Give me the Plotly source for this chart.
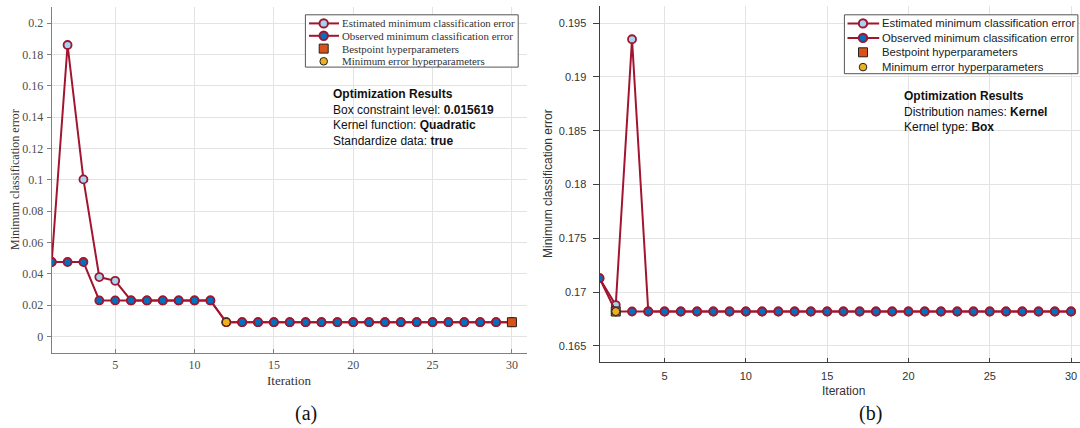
import plotly.graph_objects as go

W, H = 1080, 428

# ---------------- data ----------------
iterations = list(range(1, 31))

a_estimated = [0.0476, 0.186, 0.1003, 0.038, 0.0356, 0.0231, 0.0231, 0.0231, 0.0231, 0.0231,
               0.0231, 0.0092, 0.0092, 0.0092, 0.0092, 0.0092, 0.0092, 0.0092, 0.0092, 0.0092,
               0.0092, 0.0092, 0.0092, 0.0092, 0.0092, 0.0092, 0.0092, 0.0092, 0.0092, 0.0092]
a_observed = [0.0476, 0.0476, 0.0476, 0.0231, 0.0231, 0.0231, 0.0231, 0.0231, 0.0231, 0.0231,
              0.0231, 0.0092, 0.0092, 0.0092, 0.0092, 0.0092, 0.0092, 0.0092, 0.0092, 0.0092,
              0.0092, 0.0092, 0.0092, 0.0092, 0.0092, 0.0092, 0.0092, 0.0092, 0.0092, 0.0092]
a_best_iter = [30]
a_best_val = [0.0092]
a_min_iter = [12]
a_min_val = [0.0092]

b_estimated = [0.1713, 0.1688, 0.1935, 0.1682, 0.1682, 0.1682, 0.1682, 0.1682, 0.1682, 0.1682,
               0.1682, 0.1682, 0.1682, 0.1682, 0.1682, 0.1682, 0.1682, 0.1682, 0.1682, 0.1682,
               0.1682, 0.1682, 0.1682, 0.1682, 0.1682, 0.1682, 0.1682, 0.1682, 0.1682, 0.1682]
b_observed = [0.1713, 0.1682, 0.1682, 0.1682, 0.1682, 0.1682, 0.1682, 0.1682, 0.1682, 0.1682,
              0.1682, 0.1682, 0.1682, 0.1682, 0.1682, 0.1682, 0.1682, 0.1682, 0.1682, 0.1682,
              0.1682, 0.1682, 0.1682, 0.1682, 0.1682, 0.1682, 0.1682, 0.1682, 0.1682, 0.1682]
b_best_iter = [2]
b_best_val = [0.1682]
b_min_iter = [2]
b_min_val = [0.1682]

a_yticks = [0, 0.02, 0.04, 0.06, 0.08, 0.1, 0.12, 0.14, 0.16, 0.18, 0.2]
a_ytick_labels = ["0", "0.02", "0.04", "0.06", "0.08", "0.1", "0.12", "0.14", "0.16", "0.18", "0.2"]
b_yticks = [0.165, 0.17, 0.175, 0.18, 0.185, 0.19, 0.195]
b_ytick_labels = ["0.165", "0.17", "0.175", "0.18", "0.185", "0.19", "0.195"]
xticks = [5, 10, 15, 20, 25, 30]

legend_labels = ["Estimated minimum classification error",
                 "Observed minimum classification error",
                 "Bestpoint hyperparameters",
                 "Minimum error hyperparameters"]

a_results = ("<b>Optimization Results</b><br>Box constraint level: <b>0.015619</b><br>"
             "Kernel function: <b>Quadratic</b><br>Standardize data: <b>true</b>")
b_results = ("<b>Optimization Results</b><br>Distribution names: <b>Kernel</b><br>"
             "Kernel type: <b>Box</b>")

# ---------------- styles ----------------
CRIMSON = "#A2142F"
LIGHTBLUE = "#9FD6F2"
BLUE = "#0072BD"
ORANGE = "#D95319"
YELLOW = "#EDB120"
SERIF = "Liberation Serif, Times New Roman, serif"
SANS = "Liberation Sans, Arial, sans-serif"


def px(x):
    return x / W


def py(y):
    return 1 - y / H


fig = go.Figure()


def add_panel(xa, ya, est, obs, bi, bv, mi, mv):
    fig.add_trace(go.Scatter(x=iterations, y=est, mode="lines+markers", xaxis=xa, yaxis=ya,
                             line=dict(color=CRIMSON, width=2),
                             marker=dict(symbol="circle", size=8, color=LIGHTBLUE,
                                         line=dict(color=CRIMSON, width=1.8)),
                             name=legend_labels[0], showlegend=False))
    fig.add_trace(go.Scatter(x=iterations, y=obs, mode="lines+markers", xaxis=xa, yaxis=ya,
                             line=dict(color=CRIMSON, width=2),
                             marker=dict(symbol="circle", size=8, color=BLUE,
                                         line=dict(color=CRIMSON, width=1.8)),
                             name=legend_labels[1], showlegend=False))
    fig.add_trace(go.Scatter(x=bi, y=bv, mode="markers", xaxis=xa, yaxis=ya,
                             marker=dict(symbol="square", size=9, color=ORANGE,
                                         line=dict(color="#222222", width=1)),
                             name=legend_labels[2], showlegend=False))
    fig.add_trace(go.Scatter(x=mi, y=mv, mode="markers", xaxis=xa, yaxis=ya,
                             marker=dict(symbol="circle", size=8, color=YELLOW,
                                         line=dict(color="#222222", width=1)),
                             name=legend_labels[3], showlegend=False))


add_panel("x", "y", a_estimated, a_observed, a_best_iter, a_best_val, a_min_iter, a_min_val)
add_panel("x2", "y2", b_estimated, b_observed, b_best_iter, b_best_val, b_min_iter, b_min_val)

grid = "#E3E3E3"
fig.update_layout(
    width=W, height=H, margin=dict(l=0, r=0, t=0, b=0),
    paper_bgcolor="white", plot_bgcolor="white", showlegend=False,
    xaxis=dict(domain=[px(51.7), px(527)], range=[1, 30.95], tickvals=xticks,
               showgrid=True, gridcolor=grid, zeroline=False, showline=True, linecolor="#808080",
               ticks="inside", ticklen=4, tickcolor="#808080", anchor="y",
               tickfont=dict(family=SERIF, size=12, color="#4D4D4D"), ticklabelstandoff=1),
    yaxis=dict(domain=[py(352.8), py(6.9)], range=[-0.0103, 0.2103], tickvals=a_yticks,
               ticktext=a_ytick_labels, showgrid=True, gridcolor=grid, zeroline=False,
               showline=True, linecolor="#808080", ticks="outside", ticklen=4,
               tickcolor="#808080", anchor="x",
               tickfont=dict(family=SERIF, size=12, color="#4D4D4D"), ticklabelstandoff=1),
    xaxis2=dict(domain=[px(599.5), 1.0], range=[1, 30.55], tickvals=xticks,
                showgrid=True, gridcolor=grid, zeroline=False, showline=True, linecolor="#404040",
                ticks="inside", ticklen=4, tickcolor="#404040", anchor="y2",
                tickfont=dict(family=SANS, size=11, color="#333333"), ticklabelstandoff=4),
    yaxis2=dict(domain=[py(362.1), py(5.9)], range=[0.1635, 0.1966], tickvals=b_yticks,
                ticktext=b_ytick_labels, showgrid=True, gridcolor=grid, zeroline=False,
                showline=True, linecolor="#404040", ticks="outside", ticklen=6,
                tickcolor="#404040", anchor="x2",
                tickfont=dict(family=SANS, size=11, color="#333333"), ticklabelstandoff=4),
)

annotations = []
shapes = []


def note(text, x, y, font, **kw):
    d = dict(text=text, x=px(x), y=py(y), xref="paper", yref="paper", showarrow=False,
             xanchor="center", yanchor="middle", font=font)
    d.update(kw)
    annotations.append(d)


# axis titles and panel labels
note("Iteration", 289.5, 380.3, dict(family=SERIF, size=13, color="#333333"))
note("Minimum classification error", 15, 180, dict(family=SERIF, size=12, color="#333333"),
     textangle=-90)
note("(a)", 306.5, 413, dict(family=SERIF, size=20, color="#111111"))
note("Iteration", 843, 391, dict(family=SANS, size=12, color="#333333"))
note("Minimum classification error", 548, 184, dict(family=SANS, size=12, color="#333333"),
     textangle=-90)
note("(b)", 870.6, 413, dict(family=SERIF, size=20, color="#111111"))

# results text boxes
note(a_results, 331, 85, dict(family=SANS, size=12, color="#111111"),
     xanchor="left", yanchor="top", align="left")
note(b_results, 902, 87, dict(family=SANS, size=12, color="#111111"),
     xanchor="left", yanchor="top", align="left")


def add_legend(box, rows, line_x0, line_x1, mark_x, text_x, family, size, fontcolor):
    x0, y0, x1, y1 = box
    shapes.append(dict(type="rect", xref="paper", yref="paper", x0=px(x0), x1=px(x1),
                       y0=py(y1), y1=py(y0), line=dict(color="#555555", width=1),
                       fillcolor="white", layer="above"))
    fills = [LIGHTBLUE, BLUE]
    for k in range(2):
        yy = rows[k]
        shapes.append(dict(type="line", xref="paper", yref="paper", x0=px(line_x0),
                           x1=px(line_x1), y0=py(yy), y1=py(yy),
                           line=dict(color=CRIMSON, width=2), layer="above"))
        r = 4.2
        shapes.append(dict(type="circle", xref="paper", yref="paper", x0=px(mark_x - r),
                           x1=px(mark_x + r), y0=py(yy + r), y1=py(yy - r),
                           line=dict(color=CRIMSON, width=2), fillcolor=fills[k], layer="above"))
    r = 4.5
    yy = rows[2]
    shapes.append(dict(type="rect", xref="paper", yref="paper", x0=px(mark_x - r),
                       x1=px(mark_x + r), y0=py(yy + r), y1=py(yy - r),
                       line=dict(color="#222222", width=1), fillcolor=ORANGE, layer="above"))
    r = 3.8
    yy = rows[3]
    shapes.append(dict(type="circle", xref="paper", yref="paper", x0=px(mark_x - r),
                       x1=px(mark_x + r), y0=py(yy + r), y1=py(yy - r),
                       line=dict(color="#222222", width=1), fillcolor=YELLOW, layer="above"))
    for k, lab in enumerate(legend_labels):
        note(lab, text_x, rows[k], dict(family=family, size=size, color=fontcolor),
             xanchor="left")


add_legend((305.4, 14.8, 518.2, 67.1), [23.4, 35.8, 48.6, 61.3], 309, 339, 323.7, 340,
           SERIF, 10.9, "#333333")
add_legend((844.4, 14.8, 1077.9, 73.7), [23.4, 37.9, 52.3, 67.1], 847.5, 879.2, 863, 879.5,
           SANS, 11.3, "#222222")

fig.update_layout(annotations=annotations, shapes=shapes)

fig.write_html("out.html", config={"displayModeBar": False},
               post_script="document.body.style.margin='0px';"
                           "document.body.style.overflow='hidden';")
